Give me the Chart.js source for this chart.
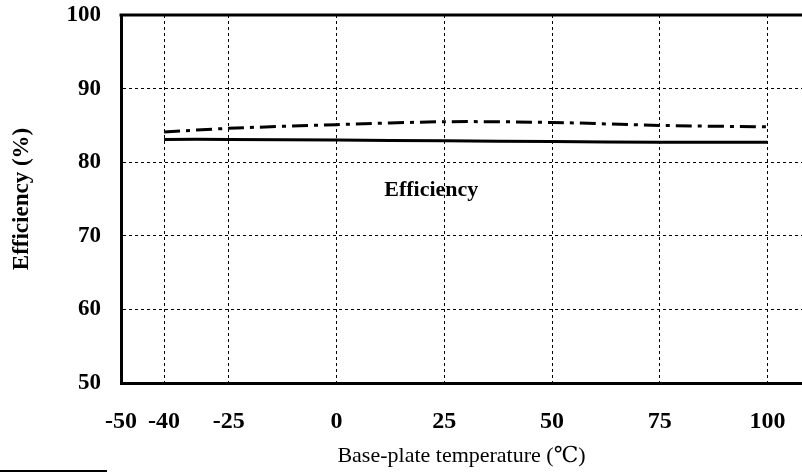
<!DOCTYPE html>
<html>
<head>
<meta charset="utf-8">
<script src="https://cdn.jsdelivr.net/npm/chart.js@4/dist/chart.umd.min.js"></script>
<style>
    html, body { margin: 0; padding: 0; background: #fff; }
    .wrap { position: relative; width: 802px; height: 474px; }
    .foot-rule { position: absolute; left: 0; top: 470px; width: 107px; height: 2px; background: #000; }
</style>
</head>
<body>
<div class="wrap">
    <canvas id="eff-chart" width="802" height="474"></canvas>
    <div class="foot-rule"></div>
</div>
<script>
// temperatures (°C) where readings were taken
const temps = [-40, -25, 0, 25, 50, 75, 100];
// upper curve (dash-dot) and lower curve (solid), efficiency %
const effDashDot = [84.1, 84.6, 85.1, 85.5, 85.4, 85.0, 84.8];
const effSolid = [83.1, 83.1, 83.0, 82.9, 82.8, 82.7, 82.7];

const xTicks = [-50, -40, -25, 0, 25, 50, 75, 100];
const yTicks = [50, 60, 70, 80, 90, 100];

const curveLabel = { text: 'Efficiency', x: 22, y: 76.2 };

const serif = "'Liberation Serif', 'DejaVu Serif', serif";

function toPoints(xs, ys) {
    return xs.map((x, i) => ({ x: x, y: ys[i] }));
}

// top frame line + text label inside the plot
const framePlugin = {
    id: 'frame',
    afterDraw(chart) {
        const { ctx, chartArea, scales } = chart;
        ctx.save();
        ctx.strokeStyle = '#000';
        ctx.lineWidth = 3;
        ctx.beginPath();
        ctx.moveTo(chartArea.left - 1.5, chartArea.top);
        ctx.lineTo(chart.width, chartArea.top);
        ctx.stroke();

        ctx.fillStyle = '#000';
        ctx.font = 'bold 22px ' + serif;
        ctx.textAlign = 'center';
        ctx.textBaseline = 'middle';
        ctx.fillText(curveLabel.text, scales.x.getPixelForValue(curveLabel.x), scales.y.getPixelForValue(curveLabel.y));
        ctx.restore();
    }
};

const ctx = document.getElementById('eff-chart').getContext('2d');
new Chart(ctx, {
    type: 'line',
    data: {
        datasets: [{
            label: 'Efficiency high',
            data: toPoints(temps, effDashDot),
            borderColor: '#000',
            borderWidth: 3,
            borderDash: [16, 6, 4, 6],
            pointRadius: 0,
            tension: 0.3,
        }, {
            label: 'Efficiency low',
            data: toPoints(temps, effSolid),
            borderColor: '#000',
            borderWidth: 3,
            pointRadius: 0,
            tension: 0.3,
        }]
    },
    options: {
        responsive: false,
        animation: false,
        layout: { padding: { top: 15, left: 0, right: 0, bottom: 0 } },
        plugins: {
            legend: { display: false },
            tooltip: { enabled: false },
        },
        scales: {
            x: {
                type: 'linear',
                min: -50,
                max: 108,
                afterBuildTicks: axis => { axis.ticks = xTicks.map(v => ({ value: v })); },
                afterFit: scale => {
                    scale.height = 91;
                    scale.paddingLeft = 0;
                    scale.paddingRight = 0;
                },
                grid: { color: '#000', lineWidth: 1, drawTicks: false },
                border: { display: true, color: '#000', width: 3, dash: [3, 3] },
                ticks: {
                    autoSkip: false,
                    maxRotation: 0,
                    padding: 24,
                    color: '#000',
                    font: { family: serif, size: 24, weight: 'bold' },
                },
                title: {
                    display: true,
                    text: 'Base-plate temperature (℃)',
                    color: '#000',
                    font: { family: serif, size: 22 },
                    padding: { top: 0, bottom: 5 },
                },
            },
            y: {
                min: 50,
                max: 100,
                afterBuildTicks: axis => { axis.ticks = yTicks.map(v => ({ value: v })); },
                afterFit: scale => {
                    scale.width = 121;
                    scale.paddingTop = 0;
                    scale.paddingBottom = 0;
                },
                grid: { color: '#000', lineWidth: 1, drawTicks: false },
                border: { display: true, color: '#000', width: 3, dash: [3, 3] },
                ticks: {
                    padding: 20,
                    color: '#000',
                    font: { family: serif, size: 23, weight: 'bold' },
                },
                title: {
                    display: true,
                    text: 'Efficiency (%)',
                    color: '#000',
                    font: { family: serif, size: 23, weight: 'bold' },
                    padding: { top: 8, bottom: 0 },
                },
            },
        },
    },
    plugins: [framePlugin],
});
</script>
</body>
</html>
